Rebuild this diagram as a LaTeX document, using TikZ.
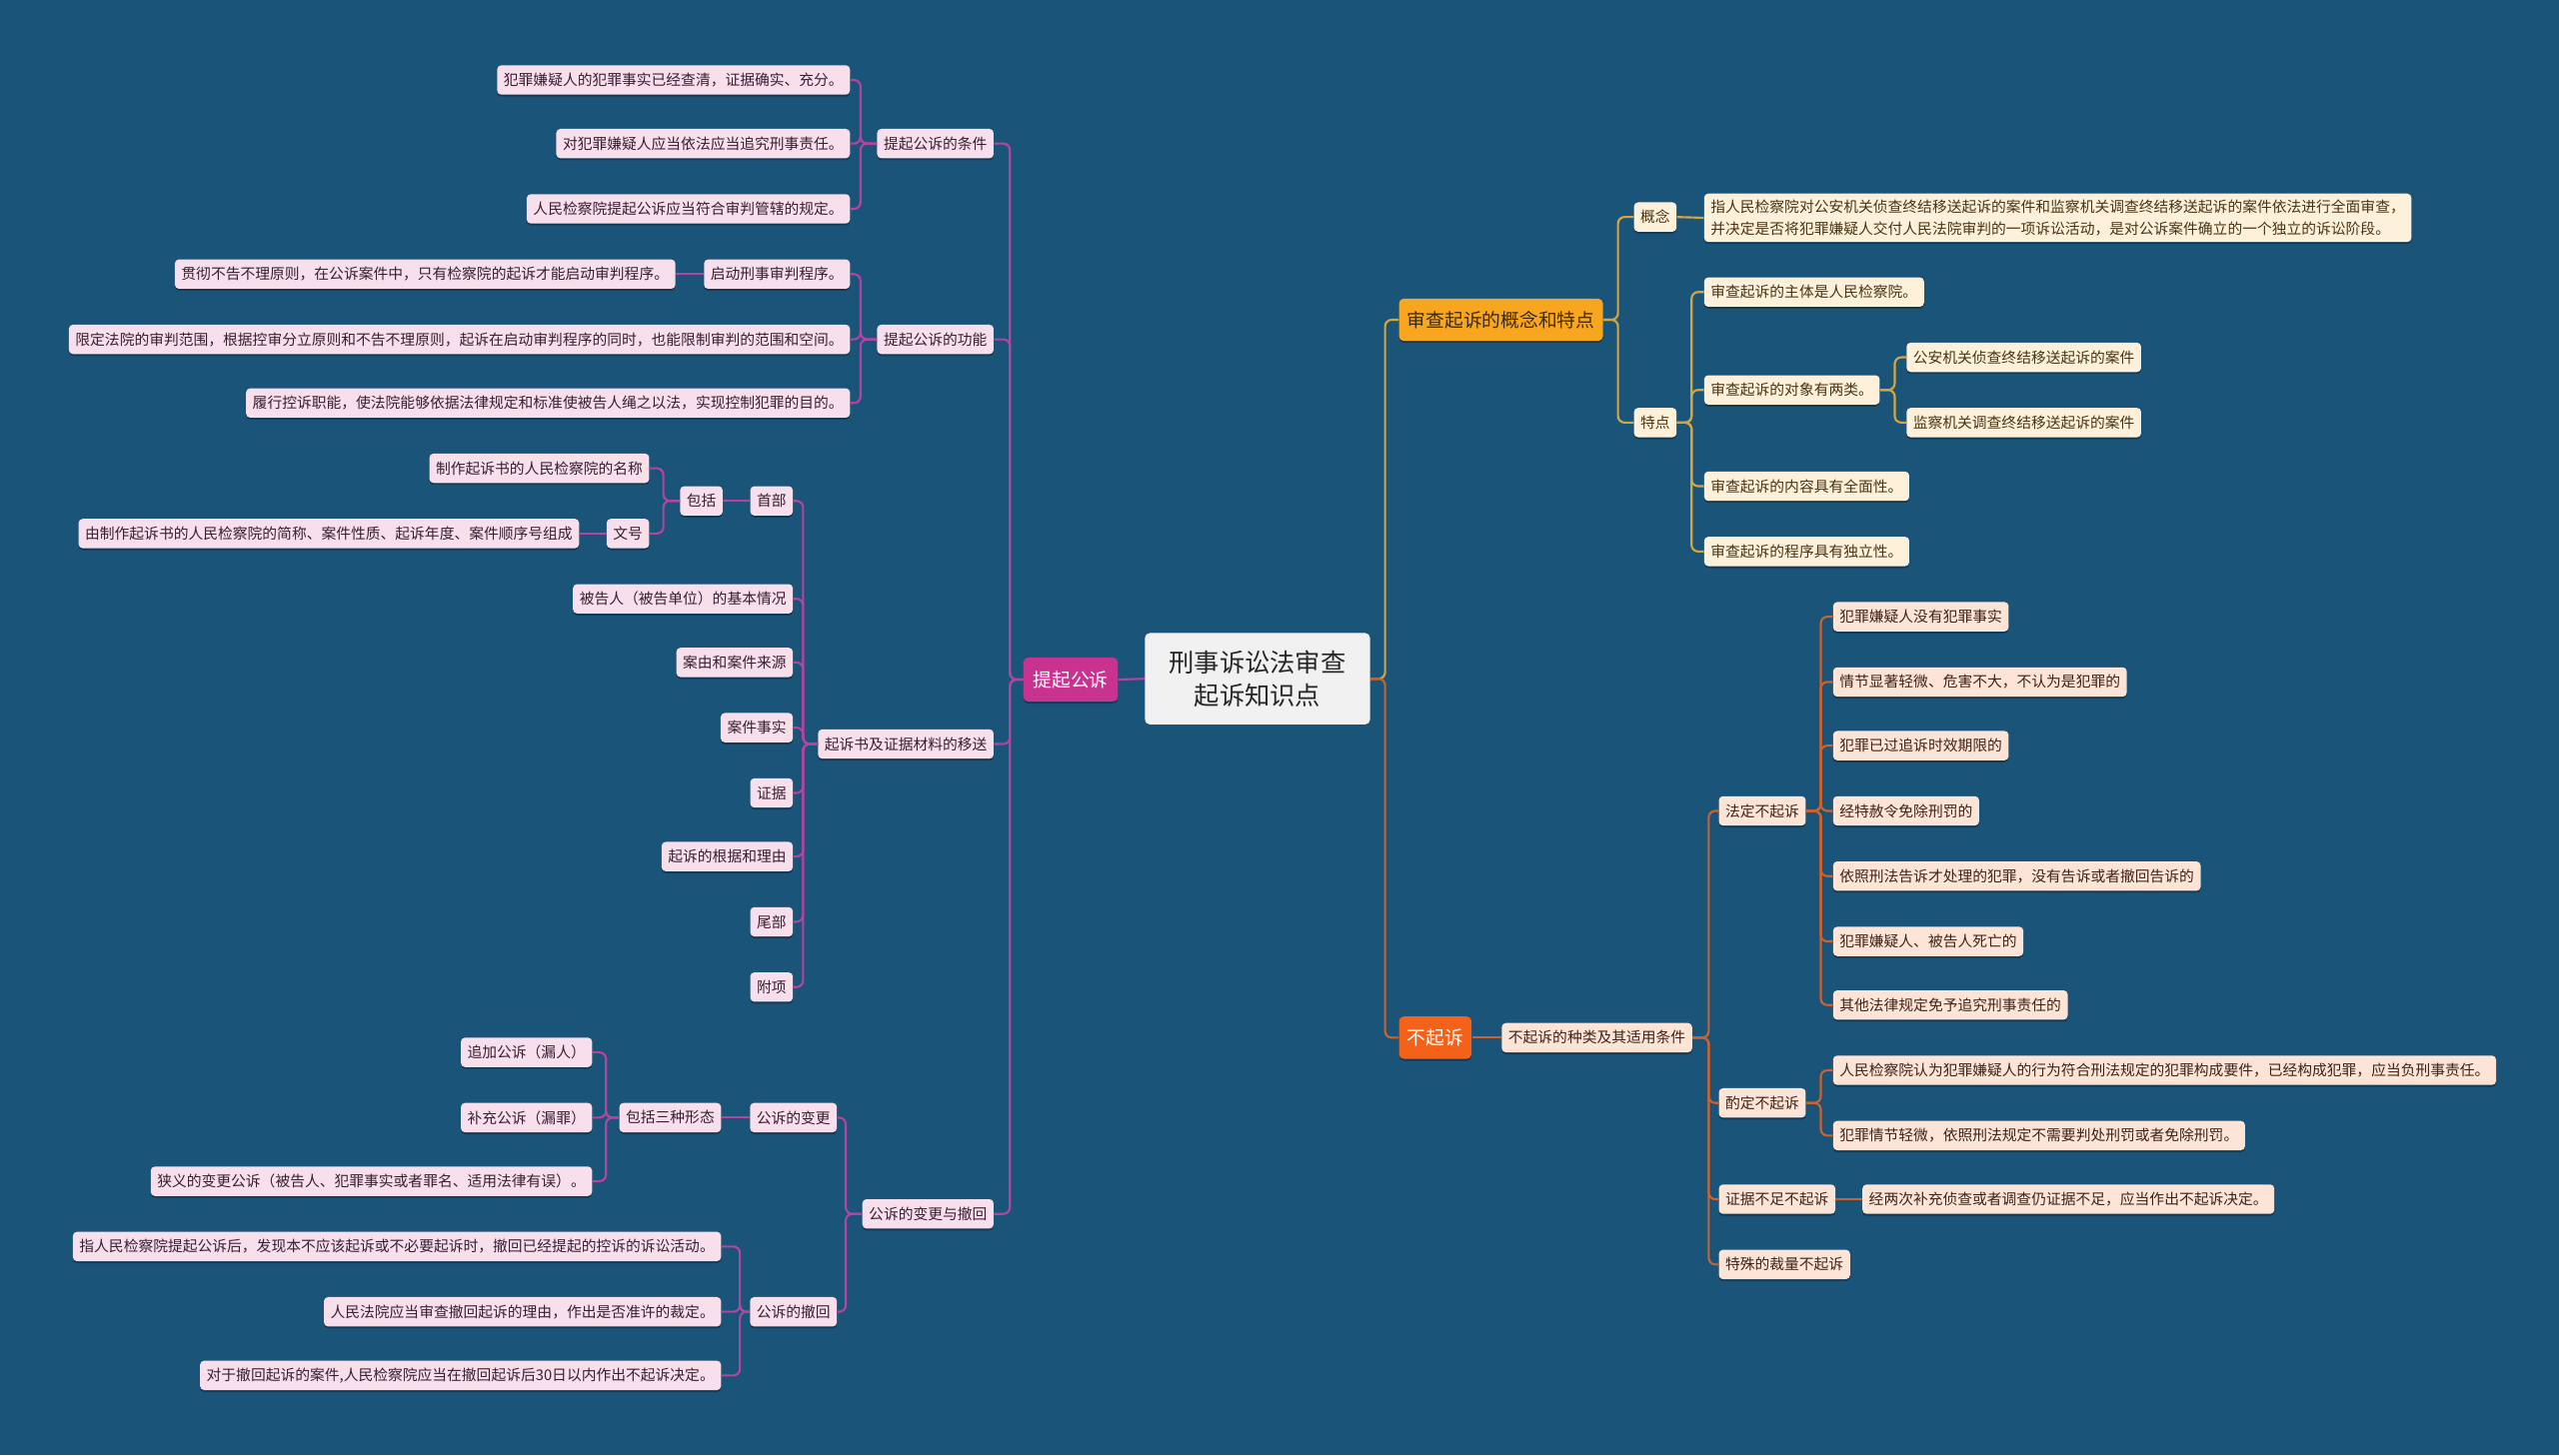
\documentclass[tikz,border=0pt]{standalone}
\usepackage{fontspec}
\newfontfamily\cjk{Noto Sans CJK SC}
\usetikzlibrary{shadows}
\definecolor{bg}{HTML}{1B5479}
\definecolor{pinkfill}{HTML}{F8DFEC}
\definecolor{pinktext}{HTML}{3A1E32}
\definecolor{magline}{HTML}{B4449F}
\definecolor{magfill}{HTML}{C8338F}
\definecolor{orfill}{HTML}{F8A61F}
\definecolor{ortext}{HTML}{3A2810}
\definecolor{goldline}{HTML}{D6A63E}
\definecolor{creamfill}{HTML}{FDF1DB}
\definecolor{browntext}{HTML}{4A3414}
\definecolor{redfill}{HTML}{F4621A}
\definecolor{peachfill}{HTML}{FCE4D7}
\definecolor{peachtext}{HTML}{3E2418}
\definecolor{rline}{HTML}{CB6230}
\definecolor{rootfill}{HTML}{F1F1F1}
\begin{document}
\begin{tikzpicture}[x=1pt,y=-1pt,
  box/.style={rounded corners=2.5pt, inner xsep=4pt, inner ysep=0pt, minimum height=18pt,
    font=\cjk\fontsize{9.05}{11}\selectfont,
    drop shadow={shadow xshift=0pt, shadow yshift=-1.2pt, fill=black, opacity=0.3}},
  pk/.style={box, fill=pinkfill, text=pinktext},
  cr/.style={box, fill=creamfill, text=browntext},
  pc/.style={box, fill=peachfill, text=peachtext},
  main/.style={rounded corners=3pt, inner xsep=5pt, inner ysep=0pt, minimum height=26pt,
    font=\cjk\fontsize{11.5}{13}\selectfont,
    drop shadow={shadow xshift=0pt, shadow yshift=-1.2pt, fill=black, opacity=0.3}},
  lc/.style={draw=magline, line width=1.3pt, rounded corners=4pt},
  gc/.style={draw=goldline, line width=1.3pt, rounded corners=4pt},
  rc/.style={draw=rline, line width=1.3pt, rounded corners=4pt}
]
\fill[bg] (0,0) rectangle (1568,892);
\useasboundingbox (0,0) rectangle (1568,892);

% root
\node[rounded corners=3pt, fill=rootfill, text=black!85, minimum width=138pt, minimum height=56pt,
  align=center, font=\cjk\fontsize{15.5}{20}\selectfont, inner sep=0pt] (root) at (770.5,416) {刑事诉讼法审查\\起诉知识点};

% ===== left: 提起公诉 =====
\node[main, fill=magfill, text=white, minimum width=58pt, minimum height=27pt] (tq) at (656,416.5) {提起公诉};

\node[pk, anchor=east] (a1) at (609,88) {提起公诉的条件};
\node[pk, anchor=east] (a2) at (609,208) {提起公诉的功能};
\node[pk, anchor=east] (a3) at (609,456) {起诉书及证据材料的移送};
\node[pk, anchor=east] (a4) at (609,744) {公诉的变更与撤回};

\node[pk, anchor=east] (a11) at (521,49) {犯罪嫌疑人的犯罪事实已经查清，证据确实、充分。};
\node[pk, anchor=east] (a12) at (521,88) {对犯罪嫌疑人应当依法应当追究刑事责任。};
\node[pk, anchor=east] (a13) at (521,128) {人民检察院提起公诉应当符合审判管辖的规定。};

\node[pk, anchor=east] (a21) at (521,168) {启动刑事审判程序。};
\node[pk, anchor=east] (a211) at (414,168) {贯彻不告不理原则，在公诉案件中，只有检察院的起诉才能启动审判程序。};
\node[pk, anchor=east] (a22) at (521,208) {限定法院的审判范围，根据控审分立原则和不告不理原则，起诉在启动审判程序的同时，也能限制审判的范围和空间。};
\node[pk, anchor=east] (a23) at (521,247) {履行控诉职能，使法院能够依据法律规定和标准使被告人绳之以法，实现控制犯罪的目的。};

\node[pk, anchor=east] (a31) at (486,307) {首部};
\node[pk, anchor=east] (a311) at (443,307) {包括};
\node[pk, anchor=east] (a3111) at (398,287) {制作起诉书的人民检察院的名称};
\node[pk, anchor=east] (a3112) at (398,327) {文号};
\node[pk, anchor=east] (a31121) at (355,327) {由制作起诉书的人民检察院的简称、案件性质、起诉年度、案件顺序号组成};
\node[pk, anchor=east] (a32) at (486,367) {被告人（被告单位）的基本情况};
\node[pk, anchor=east] (a33) at (486,406) {案由和案件来源};
\node[pk, anchor=east] (a34) at (486,446) {案件事实};
\node[pk, anchor=east] (a35) at (486,486) {证据};
\node[pk, anchor=east] (a36) at (486,525) {起诉的根据和理由};
\node[pk, anchor=east] (a37) at (486,565) {尾部};
\node[pk, anchor=east] (a38) at (486,605) {附项};

\node[pk, anchor=east] (a41) at (513,685) {公诉的变更};
\node[pk, anchor=east] (a411) at (442,685) {包括三种形态};
\node[pk, anchor=east] (a4111) at (363,645) {追加公诉（漏人）};
\node[pk, anchor=east] (a4112) at (363,685) {补充公诉（漏罪）};
\node[pk, anchor=east] (a4113) at (363,724) {狭义的变更公诉（被告人、犯罪事实或者罪名、适用法律有误）。};
\node[pk, anchor=east] (a42) at (513,804) {公诉的撤回};
\node[pk, anchor=east] (a421) at (442,764) {指人民检察院提起公诉后，发现本不应该起诉或不必要起诉时，撤回已经提起的控诉的诉讼活动。};
\node[pk, anchor=east] (a422) at (442,804) {人民法院应当审查撤回起诉的理由，作出是否准许的裁定。};
\node[pk, anchor=east] (a423) at (442,843) {对于撤回起诉的案件,人民检察院应当在撤回起诉后30日以内作出不起诉决定。};

% left connectors
\draw[lc] (root.west) -- (tq.east);
\foreach \c in {a1,a2,a3,a4} \draw[lc] (tq.west) -- ++(-8,0) |- (\c.east);
\foreach \c in {a11,a12,a13} \draw[lc] (a1.west) -- ++(-10,0) |- (\c.east);
\foreach \c in {a21,a22,a23} \draw[lc] (a2.west) -- ++(-10,0) |- (\c.east);
\draw[lc] (a21.west) -- (a211.east);
\foreach \c in {a31,a32,a33,a34,a35,a36,a37,a38} \draw[lc] (a3.west) -- ++(-9,0) |- (\c.east);
\draw[lc] (a31.west) -- (a311.east);
\foreach \c in {a3111,a3112} \draw[lc] (a311.west) -- ++(-10,0) |- (\c.east);
\draw[lc] (a3112.west) -- (a31121.east);
\foreach \c in {a41,a42} \draw[lc] (a4.west) -- ++(-10,0) |- (\c.east);
\draw[lc] (a41.west) -- (a411.east);
\foreach \c in {a4111,a4112,a4113} \draw[lc] (a411.west) -- ++(-8,0) |- (\c.east);
\foreach \c in {a421,a422,a423} \draw[lc] (a42.west) -- ++(-6,0) |- (\c.east);

% ===== right top: 审查起诉的概念和特点 =====
\node[main, fill=orfill, text=ortext, anchor=west] (b) at (857,196) {审查起诉的概念和特点};
\node[cr, anchor=west] (b1) at (1001,133) {概念};
\node[cr, anchor=west, align=left, inner ysep=4pt, font=\cjk\fontsize{9.05}{13}\selectfont] (b11) at (1044,133.5) {指人民检察院对公安机关侦查终结移送起诉的案件和监察机关调查终结移送起诉的案件依法进行全面审查，\\并决定是否将犯罪嫌疑人交付人民法院审判的一项诉讼活动，是对公诉案件确立的一个独立的诉讼阶段。};
\node[cr, anchor=west] (b2) at (1001,259) {特点};
\node[cr, anchor=west] (b21) at (1044,179) {审查起诉的主体是人民检察院。};
\node[cr, anchor=west] (b22) at (1044,239) {审查起诉的对象有两类。};
\node[cr, anchor=west] (b221) at (1168,219) {公安机关侦查终结移送起诉的案件};
\node[cr, anchor=west] (b222) at (1168,259) {监察机关调查终结移送起诉的案件};
\node[cr, anchor=west] (b23) at (1044,298) {审查起诉的内容具有全面性。};
\node[cr, anchor=west] (b24) at (1044,338) {审查起诉的程序具有独立性。};

\draw[gc] (root.east) -- ++(9,0) |- (b.west);
\foreach \c in {b1,b2} \draw[gc] (b.east) -- ++(9,0) |- (\c.west);
\draw[gc] (b1.east) -- (b11.west);
\foreach \c in {b21,b22,b23,b24} \draw[gc] (b2.east) -- ++(9,0) |- (\c.west);
\foreach \c in {b221,b222} \draw[gc] (b22.east) -- ++(9,0) |- (\c.west);

% ===== right bottom: 不起诉 =====
\node[main, fill=redfill, text=white, anchor=west, minimum width=44pt] (c) at (857,636) {不起诉};
\node[pc, anchor=west] (c1) at (920,636) {不起诉的种类及其适用条件};
\node[pc, anchor=west] (c11) at (1053,497) {法定不起诉};
\node[pc, anchor=west] (c111) at (1123,378) {犯罪嫌疑人没有犯罪事实};
\node[pc, anchor=west] (c112) at (1123,418) {情节显著轻微、危害不大，不认为是犯罪的};
\node[pc, anchor=west] (c113) at (1123,457) {犯罪已过追诉时效期限的};
\node[pc, anchor=west] (c114) at (1123,497) {经特赦令免除刑罚的};
\node[pc, anchor=west] (c115) at (1123,537) {依照刑法告诉才处理的犯罪，没有告诉或者撤回告诉的};
\node[pc, anchor=west] (c116) at (1123,577) {犯罪嫌疑人、被告人死亡的};
\node[pc, anchor=west] (c117) at (1123,616) {其他法律规定免予追究刑事责任的};
\node[pc, anchor=west] (c12) at (1053,676) {酌定不起诉};
\node[pc, anchor=west] (c121) at (1123,656) {人民检察院认为犯罪嫌疑人的行为符合刑法规定的犯罪构成要件，已经构成犯罪，应当负刑事责任。};
\node[pc, anchor=west] (c122) at (1123,696) {犯罪情节轻微，依照刑法规定不需要判处刑罚或者免除刑罚。};
\node[pc, anchor=west] (c13) at (1053,735) {证据不足不起诉};
\node[pc, anchor=west] (c131) at (1141,735) {经两次补充侦查或者调查仍证据不足，应当作出不起诉决定。};
\node[pc, anchor=west] (c14) at (1053,775) {特殊的裁量不起诉};

\draw[rc] (root.east) -- ++(9,0) |- (c.west);
\draw[rc] (c.east) -- (c1.west);
\foreach \c in {c11,c12,c13,c14} \draw[rc] (c1.east) -- ++(10,0) |- (\c.west);
\foreach \c in {c111,c112,c113,c114,c115,c116,c117} \draw[rc] (c11.east) -- ++(9,0) |- (\c.west);
\foreach \c in {c121,c122} \draw[rc] (c12.east) -- ++(9,0) |- (\c.west);
\draw[rc] (c13.east) -- (c131.west);
\end{tikzpicture}
\end{document}
